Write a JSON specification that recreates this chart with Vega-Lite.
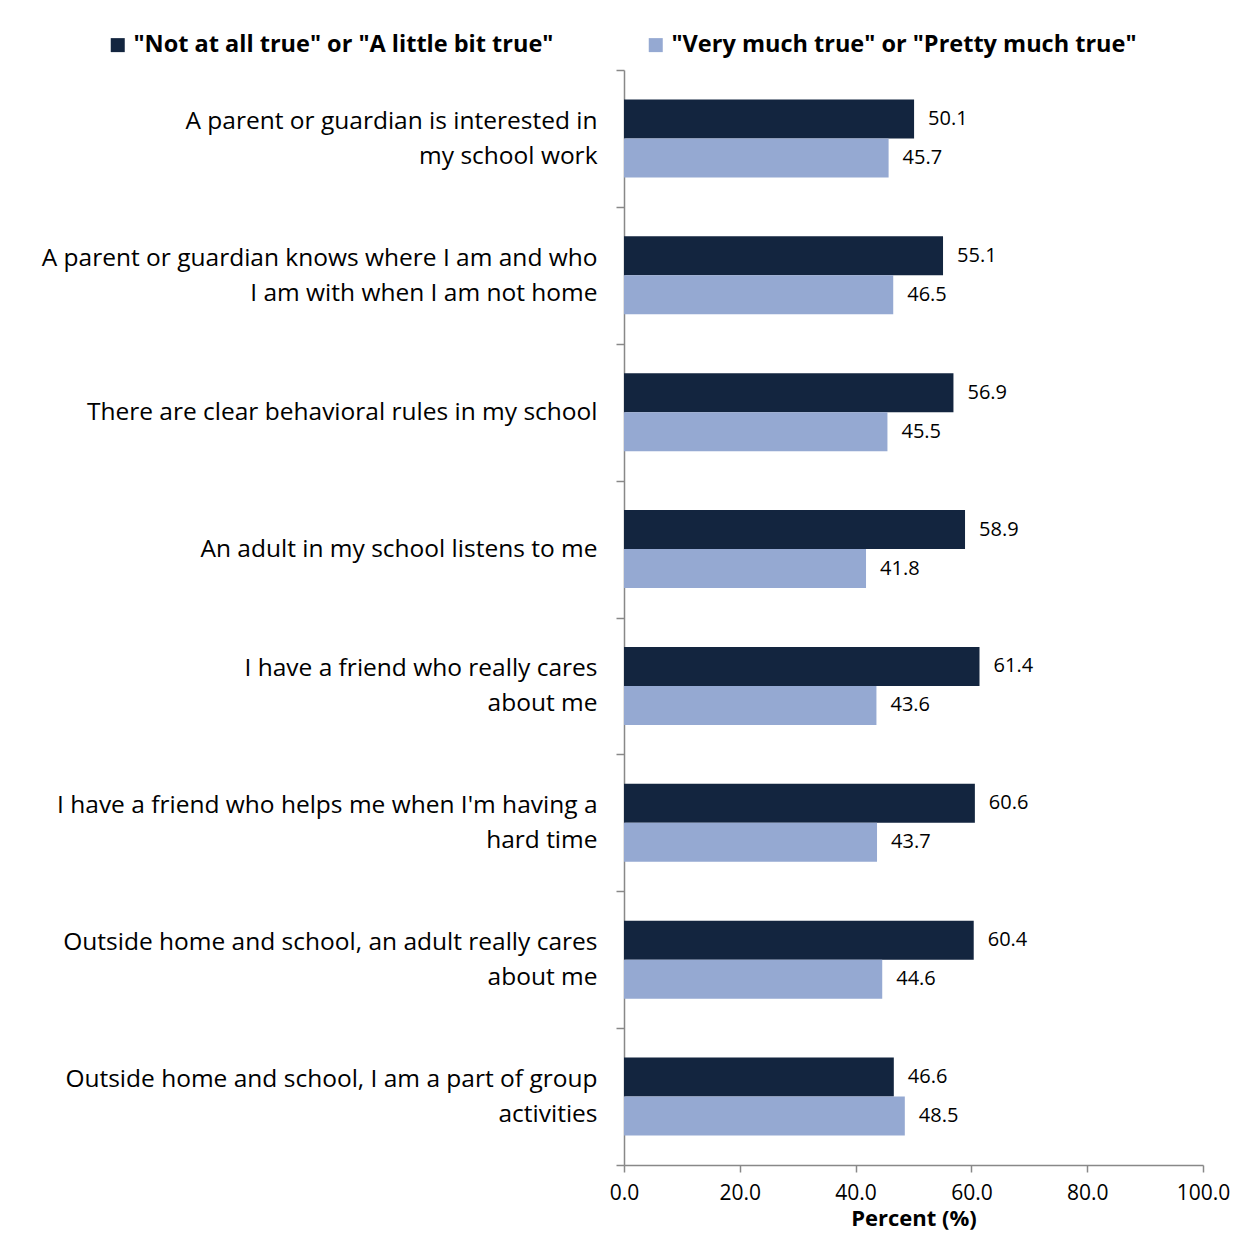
{
  "$schema": "https://vega.github.io/schema/vega-lite/v6.json",
  "width": 579,
  "height": 1095,
  "autosize": {"type": "none"},
  "padding": {"left": 624, "top": 70, "right": 30, "bottom": 69},
  "background": "white",
  "config": {
    "view": {"stroke": null},
    "font": "Open Sans"
  },
  "data": {
    "values": [
      {"q": "A parent or guardian is interested in|my school work", "g": "\"Not at all true\" or \"A little bit true\"", "v": 50.1},
      {"q": "A parent or guardian is interested in|my school work", "g": "\"Very much true\" or \"Pretty much true\"", "v": 45.7},
      {"q": "A parent or guardian knows where I am and who|I am with when I am not home", "g": "\"Not at all true\" or \"A little bit true\"", "v": 55.1},
      {"q": "A parent or guardian knows where I am and who|I am with when I am not home", "g": "\"Very much true\" or \"Pretty much true\"", "v": 46.5},
      {"q": "There are clear behavioral rules in my school", "g": "\"Not at all true\" or \"A little bit true\"", "v": 56.9},
      {"q": "There are clear behavioral rules in my school", "g": "\"Very much true\" or \"Pretty much true\"", "v": 45.5},
      {"q": "An adult in my school listens to me", "g": "\"Not at all true\" or \"A little bit true\"", "v": 58.9},
      {"q": "An adult in my school listens to me", "g": "\"Very much true\" or \"Pretty much true\"", "v": 41.8},
      {"q": "I have a friend who really cares|about me", "g": "\"Not at all true\" or \"A little bit true\"", "v": 61.4},
      {"q": "I have a friend who really cares|about me", "g": "\"Very much true\" or \"Pretty much true\"", "v": 43.6},
      {"q": "I have a friend who helps me when I'm having a|hard time", "g": "\"Not at all true\" or \"A little bit true\"", "v": 60.6},
      {"q": "I have a friend who helps me when I'm having a|hard time", "g": "\"Very much true\" or \"Pretty much true\"", "v": 43.7},
      {"q": "Outside home and school, an adult really cares|about me", "g": "\"Not at all true\" or \"A little bit true\"", "v": 60.4},
      {"q": "Outside home and school, an adult really cares|about me", "g": "\"Very much true\" or \"Pretty much true\"", "v": 44.6},
      {"q": "Outside home and school, I am a part of group|activities", "g": "\"Not at all true\" or \"A little bit true\"", "v": 46.6},
      {"q": "Outside home and school, I am a part of group|activities", "g": "\"Very much true\" or \"Pretty much true\"", "v": 48.5}
    ]
  },
  "encoding": {
    "y": {
      "field": "q",
      "type": "nominal",
      "sort": null,
      "scale": {"paddingInner": 0, "paddingOuter": 0},
      "axis": {
        "title": null,
        "labelExpr": "split(datum.label, '|')",
        "labelFontSize": 24.5,
        "labelColor": "black",
        "labelLineHeight": 35,
        "labelPadding": 19,
        "labelLimit": 700,
        "labelOffset": {"condition": {"test": "indexof(datum.label, '|') >= 0", "value": -17}, "value": 0},
        "tickBand": "extent",
        "tickSize": 8,
        "tickColor": "#888888",
        "domainColor": "#888888",
        "tickWidth": 1.5,
        "domainWidth": 1.5
      }
    },
    "yOffset": {
      "field": "g",
      "type": "nominal",
      "sort": null,
      "scale": {"paddingInner": 0, "paddingOuter": 0.756}
    },
    "x": {
      "field": "v",
      "type": "quantitative",
      "scale": {"domain": [0, 100]},
      "axis": {
        "title": "Percent (%)",
        "titleFontSize": 22,
        "titleFontWeight": "bold",
        "titleColor": "black",
        "titlePadding": 5,
        "values": [0, 20, 40, 60, 80, 100],
        "format": ".1f",
        "grid": false,
        "labelFontSize": 21,
        "labelColor": "black",
        "labelPadding": 10,
        "tickSize": 7,
        "tickColor": "#888888",
        "domainColor": "#888888",
        "tickWidth": 1.5,
        "domainWidth": 1.5,
        "labelFlush": false
      }
    }
  },
  "layer": [
    {
      "mark": {"type": "bar"},
      "encoding": {
        "color": {
          "field": "g",
          "type": "nominal",
          "sort": null,
          "scale": {"range": ["#13253F", "#95A9D2"]},
          "legend": {
            "title": null,
            "orient": "none",
            "direction": "horizontal",
            "legendX": -518,
            "legendY": -37,
            "labelFontSize": 23.5,
            "labelFontWeight": "bold",
            "labelColor": "black",
            "symbolType": "square",
            "symbolSize": 196,
            "symbolStrokeWidth": 0,
            "labelOffset": 4,
            "columnPadding": 90,
            "labelLimit": 600
          }
        }
      }
    },
    {
      "mark": {"type": "text", "align": "left", "baseline": "middle", "dx": 14, "fontSize": 20, "color": "black"},
      "encoding": {
        "text": {"field": "v", "type": "quantitative", "format": ".1f"}
      }
    }
  ]
}
